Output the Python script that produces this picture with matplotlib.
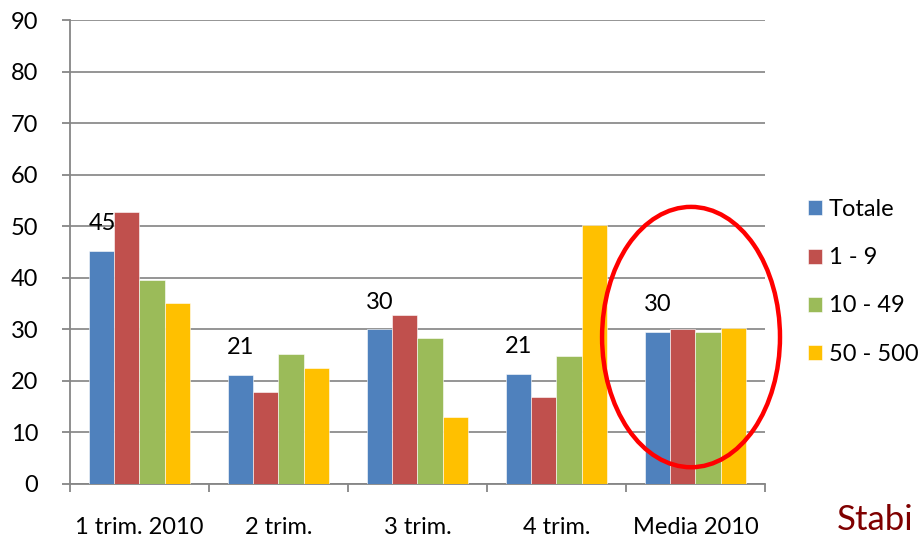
import numpy as np
import matplotlib.pyplot as plt
from matplotlib.patches import Ellipse

plt.rcParams['font.family'] = ['Lato', 'DejaVu Sans']

categories = ["1 trim. 2010", "2 trim.", "3 trim.", "4 trim.", "Media 2010"]
series_names = ["Totale", "1 - 9", "10 - 49", "50 - 500"]
totale = [45.2, 21.2, 30.0, 21.4, 29.5]
micro = [52.7, 17.9, 32.8, 16.8, 30.0]
piccole = [39.5, 25.2, 28.3, 24.9, 29.5]
medie = [35.1, 22.5, 12.9, 50.2, 30.2]
labels_totale = ["45", "21", "30", "21", "30"]
colors = ["#4F81BD", "#C0504D", "#9BBB59", "#FFC000"]

fig = plt.figure(figsize=(9.21, 5.38), dpi=100)
ax = fig.add_axes([0.076, 0.1004, 0.7546, 0.8624])

x = np.arange(len(categories))
w = 0.18
for i, vals in enumerate([totale, micro, piccole, medie]):
    ax.bar(x + (i - 1.5) * w, vals, width=w, color=colors[i], label=series_names[i],
           edgecolor="white", linewidth=0.4, zorder=3)

# etichette solo per il totale
for xi, v, lab in zip(x, totale, labels_totale):
    ax.annotate(lab, (xi - 1.5 * w, v), xytext=(0, 19.5), textcoords="offset points",
                ha="center", va="center", fontsize=17, color="black")

ax.set_xlim(-0.5, 4.5)
ax.set_ylim(0, 90)
ax.set_yticks(range(0, 91, 10))
ax.set_xticks(x)
ax.set_xticklabels(categories, fontsize=17)
ax.set_xticks(np.arange(-0.5, 4.6, 1), minor=True)
ax.tick_params(axis="x", which="major", length=0, pad=24)
ax.tick_params(axis="x", which="minor", length=6, width=1.3, color="#868686", direction="out")
ax.tick_params(axis="y", length=6, width=1.3, color="#868686", labelsize=17, pad=17)
ax.grid(axis="y", color="#8c8c8c", linewidth=1.3, zorder=0)
for s in ["top", "right"]:
    ax.spines[s].set_visible(False)
for s in ["left", "bottom"]:
    ax.spines[s].set_color("#868686")
    ax.spines[s].set_linewidth(1.3)

ell = Ellipse((3.968, 28.5), 1.28, 50.5, fill=False, edgecolor="#FF0000",
              linewidth=3.2, clip_on=False, zorder=5)
ax.add_patch(ell)

ax.legend(loc="center left", bbox_to_anchor=(0.877, 0.476), bbox_transform=fig.transFigure,
          frameon=False, fontsize=17, borderpad=0, borderaxespad=0,
          handlelength=0.6, handleheight=0.6, handletextpad=0.3, labelspacing=1.15)

fig.text(0.909, 0.004, "Stabi", fontsize=25, color="#7F0000", ha="left", va="bottom")

fig.savefig("out.png", dpi=100)
